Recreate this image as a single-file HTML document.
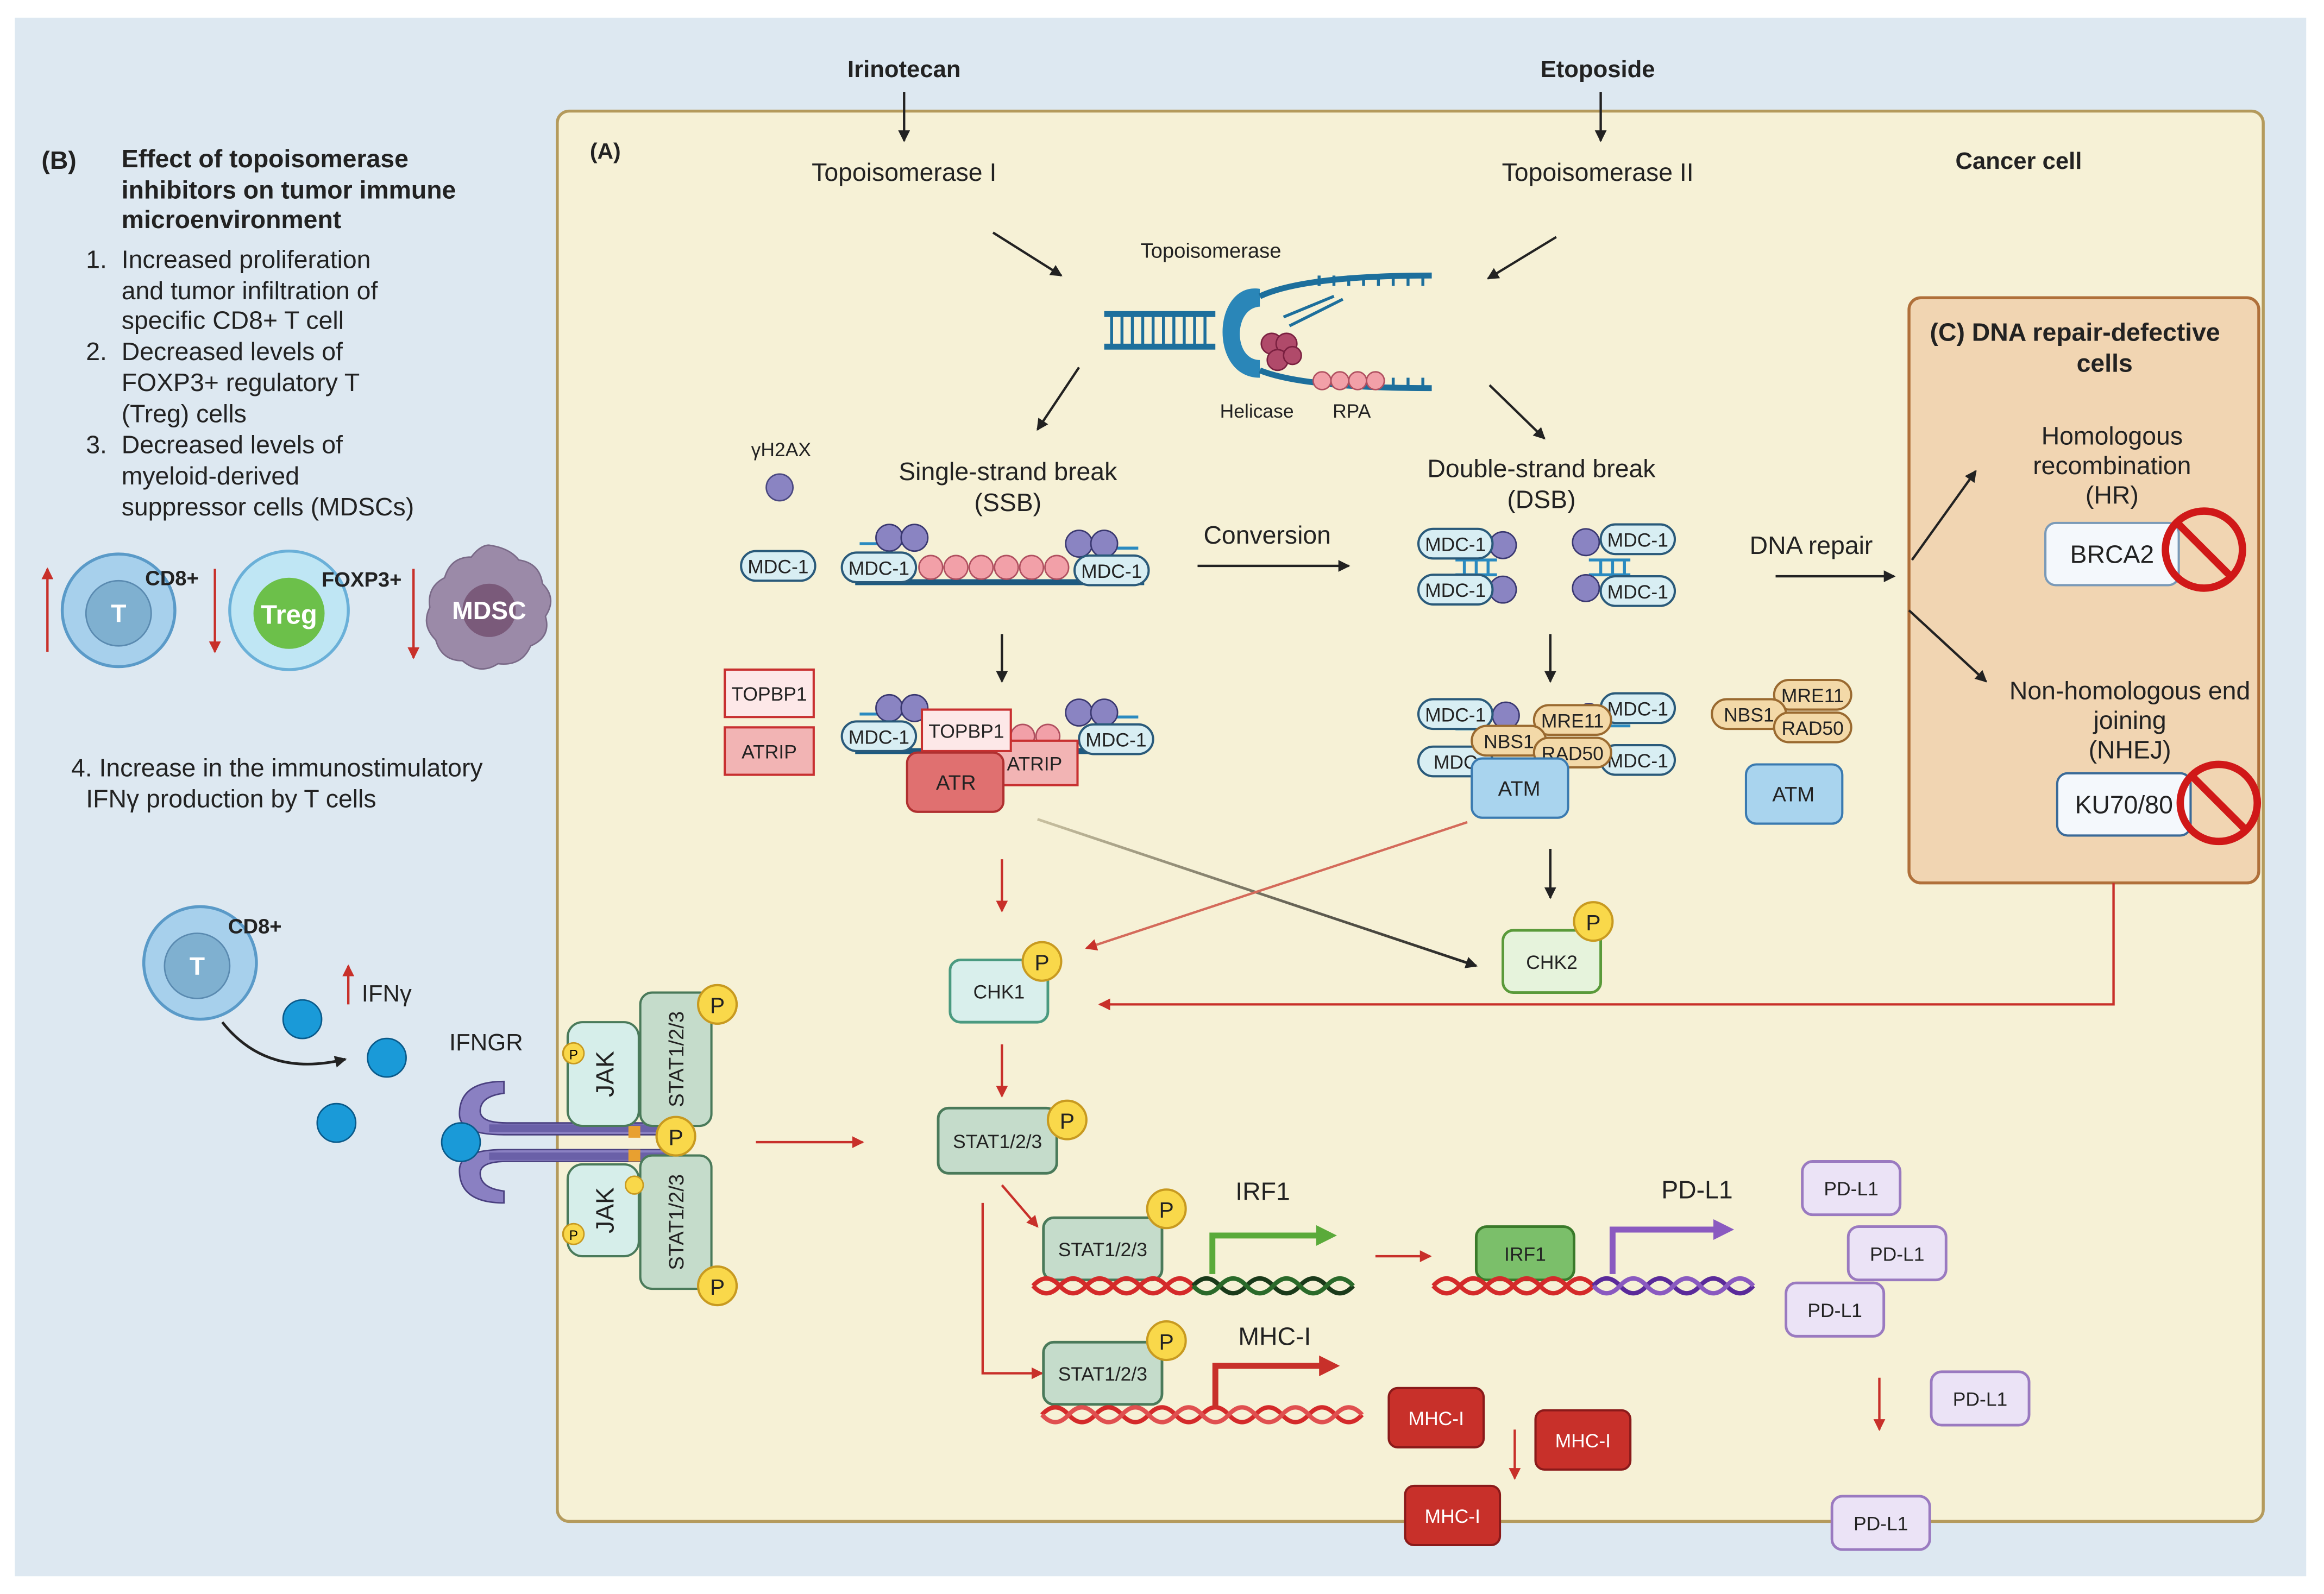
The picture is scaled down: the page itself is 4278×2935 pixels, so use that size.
<!DOCTYPE html>
<html><head><meta charset="utf-8"><style>
html,body{margin:0;padding:0;background:#fff;}
svg{display:block;}
text{font-family:"Liberation Sans",sans-serif;}
</style></head><body>
<svg width="4278" height="2935" viewBox="0 0 1568 1076" preserveAspectRatio="none" xmlns="http://www.w3.org/2000/svg">
<defs>
<marker id="ak" markerWidth="8" markerHeight="8" refX="7" refY="4" orient="auto" markerUnits="userSpaceOnUse"><path d="M0,0 L8,4 L0,8 z" fill="#222"/></marker>
<marker id="ar" markerWidth="8" markerHeight="8" refX="7" refY="4" orient="auto" markerUnits="userSpaceOnUse"><path d="M0,0 L8,4 L0,8 z" fill="#c8302a"/></marker>
<marker id="ag" markerWidth="14" markerHeight="14" refX="10" refY="7" orient="auto" markerUnits="userSpaceOnUse"><path d="M0,0 L14,7 L0,14 z" fill="#5aaa3a"/></marker>
<marker id="ap" markerWidth="14" markerHeight="14" refX="10" refY="7" orient="auto" markerUnits="userSpaceOnUse"><path d="M0,0 L14,7 L0,14 z" fill="#8a5ac0"/></marker>
<marker id="am" markerWidth="14" markerHeight="14" refX="10" refY="7" orient="auto" markerUnits="userSpaceOnUse"><path d="M0,0 L14,7 L0,14 z" fill="#c8302a"/></marker>
<linearGradient id="gl" x1="0" x2="1"><stop offset="0" stop-color="#d8b0a0"/><stop offset="1" stop-color="#d0302a"/></linearGradient>
<linearGradient id="gk" x1="0" x2="1"><stop offset="0" stop-color="#c8c0a0"/><stop offset="1" stop-color="#222"/></linearGradient>
</defs>
<rect x="0" y="0" width="1568" height="1076" fill="#fff"/>
<rect x="10" y="12" width="1546" height="1052" fill="#dde8f1"/>
<!-- cancer cell -->
<rect x="376" y="75" width="1151" height="952" rx="8" fill="#f6f1d6" stroke="#b49a5c" stroke-width="2"/>
<!-- C box -->
<rect x="1288" y="201" width="236" height="395" rx="8" fill="#f1d5b2" stroke="#b0703a" stroke-width="2"/>

<g font-size="16" fill="#222" text-anchor="middle">
<text x="610" y="52" font-weight="bold">Irinotecan</text>
<text x="1078" y="52" font-weight="bold">Etoposide</text>
<text x="610" y="122" font-size="17">Topoisomerase I</text>
<text x="1078" y="122" font-size="17">Topoisomerase II</text>
<text x="1362" y="114" font-weight="bold">Cancer cell</text>
<text x="817" y="174" font-size="14">Topoisomerase</text>
<text x="848" y="282" font-size="13">Helicase</text>
<text x="912" y="282" font-size="13">RPA</text>
<text x="527" y="308" font-size="13">γH2AX</text>
<text x="680" y="324" font-size="17">Single-strand break</text>
<text x="680" y="345" font-size="17">(SSB)</text>
<text x="855" y="367" font-size="17">Conversion</text>
<text x="1040" y="322" font-size="17">Double-strand break</text>
<text x="1040" y="343" font-size="17">(DSB)</text>
<text x="1222" y="374" font-size="17">DNA repair</text>
<text x="852" y="810" font-size="17">IRF1</text>
<text x="1145" y="809" font-size="17">PD-L1</text>
<text x="860" y="908" font-size="17">MHC-I</text>
<text x="1400" y="230" font-weight="bold" font-size="17">(C)  DNA repair-defective</text>
<text x="1420" y="251" font-weight="bold" font-size="17">cells</text>
<text x="1425" y="300" font-size="17">Homologous</text>
<text x="1425" y="320" font-size="17">recombination</text>
<text x="1425" y="340" font-size="17">(HR)</text>
<text x="1437" y="472" font-size="17">Non-homologous end</text>
<text x="1437" y="492" font-size="17">joining</text>
<text x="1437" y="512" font-size="17">(NHEJ)</text>
<text x="328" y="709" font-size="16">IFNGR</text>
</g>
<text x="398" y="107" font-size="15" font-weight="bold" fill="#222">(A)</text>

<!-- black arrows -->
<g stroke="#222" stroke-width="1.6" fill="none" marker-end="url(#ak)">
<line x1="610" y1="62" x2="610" y2="95"/>
<line x1="1080" y1="62" x2="1080" y2="95"/>
<line x1="670" y1="157" x2="716" y2="186"/>
<line x1="1050" y1="160" x2="1004" y2="188"/>
<line x1="728" y1="248" x2="700" y2="290"/>
<line x1="1005" y1="260" x2="1042" y2="296"/>
<line x1="808" y1="382" x2="910" y2="382"/>
<line x1="1198" y1="389" x2="1278" y2="389"/>
<line x1="676" y1="428" x2="676" y2="460"/>
<line x1="1046" y1="428" x2="1046" y2="460"/>
<line x1="1046" y1="573" x2="1046" y2="606"/>
<line x1="1290" y1="378" x2="1333" y2="318"/>
<line x1="1288" y1="412" x2="1340" y2="460"/>
</g>
<line x1="700" y1="553" x2="996" y2="652" stroke="url(#gk)" stroke-width="1.8" marker-end="url(#ak)"/>
<line x1="990" y1="555" x2="733" y2="640" stroke="#d46a5a" stroke-width="1.6" marker-end="url(#ar)"/>

<!-- red arrows -->
<g stroke="#c8302a" stroke-width="1.6" fill="none" marker-end="url(#ar)">
<line x1="676" y1="580" x2="676" y2="615"/>
<polyline points="1426,596 1426,678 742,678"/>
<line x1="676" y1="705" x2="676" y2="740"/>
<line x1="510" y1="771" x2="582" y2="771"/>
<line x1="676" y1="800" x2="700" y2="828"/>
<polyline points="663,812 663,927 703,927"/>
<line x1="928" y1="848" x2="965" y2="848"/>
<line x1="1022" y1="965" x2="1022" y2="998"/>
<line x1="1268" y1="930" x2="1268" y2="965"/>
<line x1="32" y1="440" x2="32" y2="384"/>
<line x1="145" y1="384" x2="145" y2="440"/>
<line x1="279" y1="384" x2="279" y2="444"/>
<line x1="235" y1="678" x2="235" y2="652"/>
</g>

<!-- topoisomerase DNA -->
<g>
<rect x="745" y="210" width="75" height="4" fill="#1d6f9c"/>
<rect x="745" y="232" width="75" height="4" fill="#1d6f9c"/>
<g stroke="#1d6f9c" stroke-width="2">
<line x1="750" y1="212" x2="750" y2="234"/><line x1="757" y1="212" x2="757" y2="234"/><line x1="764" y1="212" x2="764" y2="234"/><line x1="771" y1="212" x2="771" y2="234"/><line x1="778" y1="212" x2="778" y2="234"/><line x1="785" y1="212" x2="785" y2="234"/><line x1="792" y1="212" x2="792" y2="234"/><line x1="799" y1="212" x2="799" y2="234"/><line x1="806" y1="212" x2="806" y2="234"/><line x1="813" y1="212" x2="813" y2="234"/>
</g>
<path d="M850,195 C818,190 815,255 850,255 L850,243 C832,243 832,208 850,207 Z" fill="#2a86b8"/>
<path d="M850,200 Q880,186 966,186" stroke="#1d6f9c" stroke-width="4" fill="none"/>
<path d="M890,193 L890,186 M900,193 L900,186 M910,193 L910,186 M920,193 L920,186 M930,193 L930,186 M940,193 L940,186 M950,193 L950,186 M960,193 L960,186" stroke="#1d6f9c" stroke-width="2"/>
<path d="M866,214 L900,200 M870,220 L906,202" stroke="#1d6f9c" stroke-width="2"/>
<path d="M850,250 Q880,262 966,262" stroke="#1d6f9c" stroke-width="4" fill="none"/>
<path d="M940,255 L940,262 M950,255 L950,262 M960,255 L960,262" stroke="#1d6f9c" stroke-width="2"/>
<g fill="#b04a6a" stroke="#7a2040" stroke-width="1"><circle cx="858" cy="232" r="7"/><circle cx="868" cy="232" r="7"/><circle cx="862" cy="243" r="7"/><circle cx="872" cy="240" r="6"/></g>
<g fill="#f2a0a8" stroke="#b05060" stroke-width="1"><circle cx="892" cy="257" r="6"/><circle cx="904" cy="257" r="6"/><circle cx="916" cy="257" r="6"/><circle cx="928" cy="257" r="6"/></g>
</g>

<!-- gH2AX -->
<circle cx="526" cy="329" r="9" fill="#8a84c2" stroke="#4a4880"/>

<!-- pills -->
<g font-size="13" text-anchor="middle" fill="#222">
<g fill="#d8eef3" stroke="#2a5a7a" stroke-width="1.5">
<rect x="500" y="372" width="50" height="20" rx="10"/>
</g>
<text x="525" y="387">MDC-1</text>
</g>

<!-- SSB -->
<g>
<rect x="577" y="391" width="195" height="4" fill="#1d5a80"/>
<g fill="#f2a0a8" stroke="#b05060"><circle cx="628" cy="383" r="8"/><circle cx="645" cy="383" r="8"/><circle cx="662" cy="383" r="8"/><circle cx="679" cy="383" r="8"/><circle cx="696" cy="383" r="8"/><circle cx="713" cy="383" r="8"/></g>
<g stroke="#2a8ac0" stroke-width="2"><line x1="580" y1="367" x2="620" y2="367"/><line x1="728" y1="370" x2="768" y2="370"/></g>
<g fill="#8a84c2" stroke="#3a3870"><circle cx="600" cy="363" r="9"/><circle cx="617" cy="363" r="9"/><circle cx="728" cy="367" r="9"/><circle cx="745" cy="367" r="9"/></g>
</g>
<!-- SSB lower -->
<g>
<rect x="577" y="505" width="195" height="4" fill="#1d5a80"/>
<g fill="#f2a0a8" stroke="#b05060"><circle cx="690" cy="497" r="8"/><circle cx="707" cy="497" r="8"/></g>
<g stroke="#2a8ac0" stroke-width="2"><line x1="580" y1="482" x2="620" y2="482"/><line x1="728" y1="484" x2="768" y2="484"/></g>
<g fill="#8a84c2" stroke="#3a3870"><circle cx="600" cy="478" r="9"/><circle cx="617" cy="478" r="9"/><circle cx="728" cy="481" r="9"/><circle cx="745" cy="481" r="9"/></g>
</g>

<!-- DSB -->
<g stroke="#2a8ac0" stroke-width="2">
<line x1="982" y1="378" x2="1010" y2="378"/><line x1="982" y1="388" x2="1010" y2="388"/>
<line x1="988" y1="378" x2="988" y2="388"/><line x1="996" y1="378" x2="996" y2="388"/><line x1="1004" y1="378" x2="1004" y2="388"/>
<line x1="1072" y1="378" x2="1100" y2="378"/><line x1="1072" y1="388" x2="1100" y2="388"/>
<line x1="1080" y1="378" x2="1080" y2="388"/><line x1="1088" y1="378" x2="1088" y2="388"/><line x1="1096" y1="378" x2="1096" y2="388"/>
<line x1="982" y1="492" x2="1010" y2="492"/><line x1="1072" y1="490" x2="1100" y2="490"/>
</g>
<g fill="#8a84c2" stroke="#3a3870"><circle cx="1014" cy="368" r="9"/><circle cx="1014" cy="398" r="9"/><circle cx="1070" cy="366" r="9"/><circle cx="1070" cy="397" r="9"/><circle cx="1016" cy="483" r="9"/><circle cx="1072" cy="483" r="8"/></g>

<!-- boxes with labels -->
<g font-size="13" text-anchor="middle" fill="#222">
<g fill="#d8eef3" stroke="#2a5a7a" stroke-width="1.5">
<rect x="568" y="373" width="50" height="20" rx="10"/><rect x="725" y="375" width="50" height="20" rx="10"/>
<rect x="957" y="357" width="50" height="20" rx="10"/><rect x="957" y="388" width="50" height="20" rx="10"/>
<rect x="1080" y="354" width="50" height="20" rx="10"/><rect x="1080" y="389" width="50" height="20" rx="10"/>
<rect x="568" y="487" width="50" height="20" rx="10"/><rect x="728" y="489" width="50" height="20" rx="10"/>
<rect x="957" y="472" width="50" height="20" rx="10"/><rect x="957" y="504" width="50" height="20" rx="10"/>
<rect x="1080" y="468" width="50" height="20" rx="10"/><rect x="1080" y="503" width="50" height="20" rx="10"/>
</g>
<text x="593" y="388">MDC-1</text><text x="750" y="390">MDC-1</text>
<text x="982" y="372">MDC-1</text><text x="982" y="403">MDC-1</text>
<text x="1105" y="369">MDC-1</text><text x="1105" y="404">MDC-1</text>
<text x="593" y="502">MDC-1</text><text x="753" y="504">MDC-1</text>
<text x="982" y="487">MDC-1</text><text x="982" y="519">MDC</text>
<text x="1105" y="483">MDC-1</text><text x="1105" y="518">MDC-1</text>

<rect x="489" y="452" width="60" height="32" fill="#fde8e8" stroke="#c83030" stroke-width="1.5"/><text x="519" y="473">TOPBP1</text>
<rect x="489" y="491" width="60" height="32" fill="#f2b4b4" stroke="#c83030" stroke-width="1.5"/><text x="519" y="512">ATRIP</text>
<rect x="669" y="500" width="58" height="30" fill="#f2b4b4" stroke="#c83030" stroke-width="1.5"/><text x="698" y="520">ATRIP</text>
<rect x="622" y="479" width="60" height="28" fill="#fde8e8" stroke="#c83030" stroke-width="1.5"/><text x="652" y="498">TOPBP1</text>
<rect x="612" y="508" width="65" height="40" rx="7" fill="#e07070" stroke="#b03030" stroke-width="1.5"/><text x="645" y="533" font-size="14">ATR</text>

<g fill="#f3d9a8" stroke="#9a6a30" stroke-width="1.5">
<rect x="1035" y="476" width="52" height="20" rx="10"/><rect x="993" y="490" width="50" height="20" rx="10"/><rect x="1035" y="498" width="52" height="20" rx="10"/>
<rect x="1197" y="459" width="52" height="20" rx="10"/><rect x="1155" y="472" width="50" height="20" rx="10"/><rect x="1197" y="481" width="52" height="20" rx="10"/>
</g>
<text x="1061" y="491">MRE11</text><text x="1018" y="505">NBS1</text><text x="1061" y="513">RAD50</text>
<text x="1223" y="474">MRE11</text><text x="1180" y="487">NBS1</text><text x="1223" y="496">RAD50</text>
<rect x="993" y="512" width="65" height="40" rx="7" fill="#a9d4ee" stroke="#3a7ab0" stroke-width="1.5"/><text x="1025" y="537" font-size="14">ATM</text>
<rect x="1178" y="516" width="65" height="40" rx="7" fill="#a9d4ee" stroke="#3a7ab0" stroke-width="1.5"/><text x="1210" y="541" font-size="14">ATM</text>

<rect x="641" y="648" width="66" height="42" rx="7" fill="#d9efec" stroke="#4a9a80" stroke-width="1.8"/><text x="674" y="674">CHK1</text>
<rect x="1014" y="628" width="66" height="42" rx="7" fill="#e6f3dc" stroke="#5a9a3a" stroke-width="1.8"/><text x="1047" y="654">CHK2</text>
<rect x="633" y="748" width="80" height="44" rx="7" fill="#c5dccb" stroke="#4a7a5a" stroke-width="1.8"/><text x="673" y="775">STAT1/2/3</text>
<rect x="704" y="822" width="80" height="42" rx="7" fill="#c5dccb" stroke="#4a7a5a" stroke-width="1.8"/><text x="744" y="848">STAT1/2/3</text>
<rect x="704" y="906" width="80" height="42" rx="7" fill="#c5dccb" stroke="#4a7a5a" stroke-width="1.8"/><text x="744" y="932">STAT1/2/3</text>
<rect x="996" y="828" width="66" height="36" rx="7" fill="#7bbf6a" stroke="#3a7a2a" stroke-width="1.8"/><text x="1029" y="851">IRF1</text>

<g fill="#c8302a" stroke="#8a1a1a" stroke-width="1.5">
<rect x="937" y="937" width="64" height="40" rx="6"/><rect x="1036" y="952" width="64" height="40" rx="6"/><rect x="948" y="1003" width="64" height="40" rx="6"/>
</g>
<g fill="#fff"><text x="969" y="962">MHC-I</text><text x="1068" y="977">MHC-I</text><text x="980" y="1028">MHC-I</text></g>
<g fill="#ebe3f6" stroke="#9a7ac0" stroke-width="1.8">
<rect x="1216" y="784" width="66" height="36" rx="7"/><rect x="1247" y="828" width="66" height="36" rx="7"/><rect x="1205" y="866" width="66" height="36" rx="7"/><rect x="1303" y="926" width="66" height="36" rx="7"/><rect x="1236" y="1010" width="66" height="36" rx="7"/>
</g>
<text x="1249" y="807">PD-L1</text><text x="1280" y="851">PD-L1</text><text x="1238" y="889">PD-L1</text><text x="1336" y="949">PD-L1</text><text x="1269" y="1033">PD-L1</text>

<rect x="1380" y="353" width="90" height="42" rx="7" fill="#f4f8fc" stroke="#7a9ab8" stroke-width="1.5"/><text x="1425" y="380" font-size="17">BRCA2</text>
<rect x="1388" y="522" width="90" height="42" rx="7" fill="#f4f8fc" stroke="#3a6a98" stroke-width="1.5"/><text x="1433" y="549" font-size="17">KU70/80</text>
</g>
<!-- no signs -->
<g fill="none" stroke="#d01818" stroke-width="5">
<circle cx="1487" cy="371" r="26"/><line x1="1469" y1="353" x2="1505" y2="389"/>
<circle cx="1497" cy="542" r="26"/><line x1="1479" y1="524" x2="1515" y2="560"/>
</g>

<!-- P circles -->
<g fill="#f9d84a" stroke="#c89a20" stroke-width="1.5">
<circle cx="703" cy="649" r="13"/><circle cx="1075" cy="622" r="13"/><circle cx="720" cy="756" r="13"/><circle cx="787" cy="816" r="13"/><circle cx="787" cy="905" r="13"/>
<circle cx="484" cy="678" r="13"/><circle cx="484" cy="868" r="13"/><circle cx="456" cy="767" r="13"/><circle cx="387" cy="711" r="7"/><circle cx="387" cy="833" r="7"/><circle cx="428" cy="800" r="6"/>
</g>
<g font-size="15" text-anchor="middle" fill="#222">
<text x="703" y="655">P</text><text x="1075" y="628">P</text><text x="720" y="762">P</text><text x="787" y="822">P</text><text x="787" y="911">P</text>
<text x="484" y="684">P</text><text x="484" y="874">P</text><text x="456" y="773">P</text>
<text x="387" y="715" font-size="9">P</text><text x="387" y="837" font-size="9">P</text>
</g>

<!-- DNA helices -->
<g fill="none" stroke-width="3">
<path d="M697,868 q9,-10 18,0 t18,0 t18,0 t18,0 t18,0 t18,0" stroke="#d42a2a"/>
<path d="M697,868 q9,10 18,0 t18,0 t18,0 t18,0 t18,0 t18,0" stroke="#d42a2a"/>
<path d="M805,868 q9,-10 18,0 t18,0 t18,0 t18,0 t18,0 t18,0" stroke="#1a3a1a"/>
<path d="M805,868 q9,10 18,0 t18,0 t18,0 t18,0 t18,0 t18,0" stroke="#2a6a2a"/>
<path d="M967,868 q9,-10 18,0 t18,0 t18,0 t18,0 t18,0 t18,0" stroke="#d42a2a"/>
<path d="M967,868 q9,10 18,0 t18,0 t18,0 t18,0 t18,0 t18,0" stroke="#d42a2a"/>
<path d="M1075,868 q9,-10 18,0 t18,0 t18,0 t18,0 t18,0 t18,0" stroke="#5a2a9a"/>
<path d="M1075,868 q9,10 18,0 t18,0 t18,0 t18,0 t18,0 t18,0" stroke="#8a5ac0"/>
<path d="M703,955 q9,-10 18,0 t18,0 t18,0 t18,0 t18,0 t18,0 t18,0 t18,0 t18,0 t18,0 t18,0 t18,0" stroke="#d42a2a"/>
<path d="M703,955 q9,10 18,0 t18,0 t18,0 t18,0 t18,0 t18,0 t18,0 t18,0 t18,0 t18,0 t18,0 t18,0" stroke="#e05050"/>
</g>
<polyline points="818,860 818,834 898,834" fill="none" stroke="#5aaa3a" stroke-width="4" marker-end="url(#ag)"/>
<polyline points="1088,860 1088,830 1166,830" fill="none" stroke="#8a5ac0" stroke-width="4" marker-end="url(#ap)"/>
<polyline points="820,950 820,922 900,922" fill="none" stroke="#c8302a" stroke-width="4" marker-end="url(#am)"/>

<!-- Left panel B -->
<g font-size="17" fill="#222">
<text x="28" y="114" font-weight="bold">(B)</text>
<text x="82" y="113" font-weight="bold">Effect of topoisomerase</text>
<text x="82" y="134" font-weight="bold">inhibitors on tumor immune</text>
<text x="82" y="154" font-weight="bold">microenvironment</text>
<text x="58" y="181">1.</text><text x="82" y="181">Increased proliferation</text>
<text x="82" y="202">and tumor infiltration of</text>
<text x="82" y="222">specific CD8+ T cell</text>
<text x="58" y="243">2.</text><text x="82" y="243">Decreased levels of</text>
<text x="82" y="264">FOXP3+ regulatory T</text>
<text x="82" y="285">(Treg) cells</text>
<text x="58" y="306">3.</text><text x="82" y="306">Decreased levels of</text>
<text x="82" y="327">myeloid-derived</text>
<text x="82" y="348">suppressor cells (MDSCs)</text>
<text x="48" y="524">4.  Increase in the immunostimulatory</text>
<text x="58" y="545">IFNγ production by T cells</text>
<text x="244" y="676" font-size="16">IFNγ</text>
</g>
<!-- cells -->
<circle cx="80" cy="412" r="38" fill="#a7d0ec" stroke="#5a9ac8" stroke-width="2"/>
<circle cx="80" cy="414" r="22" fill="#7fb0d0" stroke="#5a8ab0"/>
<text x="80" y="420" font-size="17" fill="#fff" text-anchor="middle" font-weight="bold">T</text>
<text x="116" y="395" font-size="14" font-weight="bold" fill="#222" text-anchor="middle">CD8+</text>
<circle cx="195" cy="412" r="40" fill="#bfe6f4" stroke="#6ab0d8" stroke-width="2"/>
<circle cx="195" cy="414" r="24" fill="#6cc04a"/>
<text x="195" y="421" font-size="18" fill="#fff" text-anchor="middle" font-weight="bold">Treg</text>
<text x="244" y="396" font-size="14" font-weight="bold" fill="#222" text-anchor="middle">FOXP3+</text>
<path d="M330,368 q14,2 20,10 q14,2 16,16 q10,10 2,22 q4,14 -10,20 q-6,14 -22,12 q-12,8 -24,-2 q-14,0 -18,-14 q-10,-10 -4,-22 q-2,-14 10,-20 q4,-14 18,-14 q6,-8 12,-8z" fill="#9b8aa8" stroke="#7a6a88"/>
<circle cx="330" cy="412" r="18" fill="#7a5a7a"/>
<text x="330" y="418" font-size="17" fill="#fff" text-anchor="middle" font-weight="bold">MDSC</text>

<circle cx="135" cy="650" r="38" fill="#a7d0ec" stroke="#5a9ac8" stroke-width="2"/>
<circle cx="133" cy="652" r="22" fill="#7fb0d0" stroke="#5a8ab0"/>
<text x="133" y="658" font-size="17" fill="#fff" text-anchor="middle" font-weight="bold">T</text>
<text x="172" y="630" font-size="14" font-weight="bold" fill="#222" text-anchor="middle">CD8+</text>
<path d="M150,690 Q180,728 233,715" fill="none" stroke="#222" stroke-width="1.8" marker-end="url(#ak)"/>
<g fill="#1a9ad8" stroke="#0a5a8a"><circle cx="204" cy="688" r="13"/><circle cx="261" cy="714" r="13"/><circle cx="227" cy="758" r="13"/></g>

<!-- receptor -->
<g>
<path d="M340,730 q-30,0 -30,22 q0,14 30,14 l110,0 l0,-8 l-108,0 q-18,0 -18,-8 q0,-10 16,-12z" fill="#8a80c2" stroke="#4a4080"/>
<path d="M340,812 q-30,0 -30,-22 q0,-14 30,-14 l110,0 l0,8 l-108,0 q-18,0 -18,8 q0,10 16,12z" fill="#8a80c2" stroke="#4a4080"/>
<rect x="330" y="759" width="120" height="5" fill="#6a60a8"/>
<rect x="330" y="778" width="120" height="5" fill="#6a60a8"/>
<rect x="424" y="760" width="8" height="8" fill="#e8a030"/><rect x="424" y="776" width="8" height="8" fill="#e8a030"/>
<circle cx="311" cy="771" r="13" fill="#1a9ad8" stroke="#0a5a8a"/>
<rect x="383" y="690" width="48" height="70" rx="10" fill="#d6eeea" stroke="#4a7a5a" stroke-width="1.5"/>
<rect x="383" y="786" width="48" height="62" rx="10" fill="#d6eeea" stroke="#4a7a5a" stroke-width="1.5"/>
<rect x="432" y="670" width="48" height="90" rx="8" fill="#c5dccb" stroke="#4a7a5a" stroke-width="1.5"/>
<rect x="432" y="780" width="48" height="90" rx="8" fill="#c5dccb" stroke="#4a7a5a" stroke-width="1.5"/>
<text transform="translate(414,725) rotate(-90)" font-size="17" text-anchor="middle" fill="#222">JAK</text>
<text transform="translate(414,817) rotate(-90)" font-size="17" text-anchor="middle" fill="#222">JAK</text>
<text transform="translate(461,715) rotate(-90)" font-size="14" text-anchor="middle" fill="#222">STAT1/2/3</text>
<text transform="translate(461,825) rotate(-90)" font-size="14" text-anchor="middle" fill="#222">STAT1/2/3</text>
<circle cx="456" cy="767" r="13" fill="#f9d84a" stroke="#c89a20" stroke-width="1.5"/>
<text x="456" y="773" font-size="15" text-anchor="middle" fill="#222">P</text>
<circle cx="484" cy="678" r="13" fill="#f9d84a" stroke="#c89a20" stroke-width="1.5"/><text x="484" y="684" font-size="15" text-anchor="middle" fill="#222">P</text>
<circle cx="484" cy="868" r="13" fill="#f9d84a" stroke="#c89a20" stroke-width="1.5"/><text x="484" y="874" font-size="15" text-anchor="middle" fill="#222">P</text>
<circle cx="387" cy="711" r="7" fill="#f9d84a" stroke="#c89a20"/><text x="387" y="715" font-size="9" text-anchor="middle">P</text>
<circle cx="387" cy="833" r="7" fill="#f9d84a" stroke="#c89a20"/><text x="387" y="837" font-size="9" text-anchor="middle">P</text>
<circle cx="428" cy="800" r="6" fill="#f9d84a" stroke="#c89a20"/>
</g>
</svg>
</body></html>
